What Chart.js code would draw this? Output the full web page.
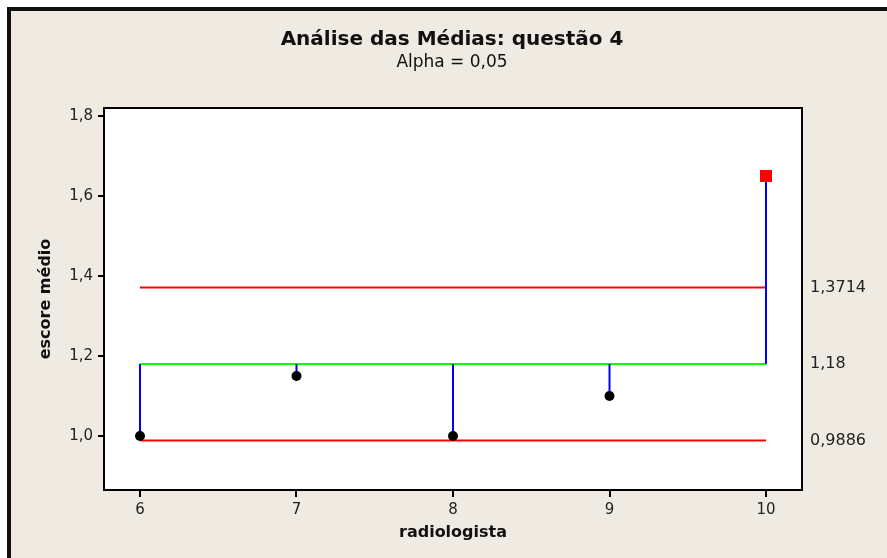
<!DOCTYPE html>
<html>
<head>
<meta charset="utf-8">
<script src="https://cdn.jsdelivr.net/npm/chart.js@4"></script>
<style>
  body { margin: 0; background: #fff; }
  #frame { position: absolute; left: 7px; top: 7px; width: 880px; height: 551px;
           border-top: 4px solid #111; border-left: 4px solid #111; background: #efebe2; }
  #myChart { position: absolute; left: 0; top: 0; }
</style>
</head>
<body>
<div id="frame"></div>
<canvas id="myChart" width="887" height="558"></canvas>
<script>
// radiologists and their mean scores
let radiologists = [6, 7, 8, 9, 10]
let means = [1.0, 1.15, 1.0, 1.1, 1.65]
let center = 1.18
let upperLimit = 1.3714
let lowerLimit = 0.9886
let yTicks = [1.0, 1.2, 1.4, 1.6, 1.8]

const fmt = (v, d) => v.toFixed(d).replace('.', ',')

// red square for the mean above the upper decision limit
let outside = means.map(m => m > upperLimit || m < lowerLimit - 0.05)
let pointColors = outside.map(o => o ? '#ff0000' : '#000000')
let pointStyles = outside.map(o => o ? 'rect' : 'circle')
let pointSizes = outside.map(o => o ? 8.5 : 5)

const first = radiologists[0]
const last = radiologists[radiologists.length - 1]

function hline(y, color) {
  return {
    data: [{x: first, y: y}, {x: last, y: y}],
    showLine: true, borderColor: color, borderWidth: 2,
    pointRadius: 0, order: 3
  }
}

let stems = radiologists.map((r, i) => ({
  data: [{x: r, y: center}, {x: r, y: means[i]}],
  showLine: true, borderColor: '#0000ff', borderWidth: 2,
  pointRadius: 0, order: 2
}))

const plotFrame = {
  id: 'plotFrame',
  beforeDraw(chart) {
    const {ctx, chartArea: a} = chart
    ctx.save()
    ctx.fillStyle = '#fff'
    ctx.fillRect(a.left, a.top, a.right - a.left, a.bottom - a.top)
    ctx.restore()
  },
  afterDraw(chart) {
    const {ctx, chartArea: a} = chart
    ctx.save()
    ctx.strokeStyle = '#000'
    ctx.lineWidth = 2
    ctx.strokeRect(a.left, a.top, a.right - a.left, a.bottom - a.top)
    ctx.fillStyle = '#111'
    ctx.textAlign = 'center'
    ctx.textBaseline = 'middle'
    ctx.font = 'bold 20px "DejaVu Sans"'
    ctx.fillText('Análise das Médias: questão 4', 452, 40)
    ctx.font = '17px "DejaVu Sans"'
    ctx.fillText('Alpha = 0,05', 452, 63)
    ctx.restore()
  }
}

const tickFont = { family: 'DejaVu Sans', size: 15 }
const titleFont = { family: 'DejaVu Sans', size: 16, weight: 'bold' }

const ctx = document.getElementById('myChart')
new Chart(ctx, {
  type: 'scatter',
  data: {
    datasets: [
      hline(upperLimit, '#ff0000'),
      hline(lowerLimit, '#ff0000'),
      hline(center, '#00ff00'),
      ...stems,
      {
        data: radiologists.map((r, i) => ({x: r, y: means[i]})),
        backgroundColor: pointColors, borderColor: pointColors,
        pointStyle: pointStyles, pointRadius: pointSizes, borderWidth: 0,
        order: 1
      }
    ]
  },
  options: {
    responsive: false,
    animation: false,
    layout: { padding: { top: 108, left: 0, right: 0, bottom: 0 } },
    plugins: { legend: { display: false }, tooltip: { enabled: false } },
    scales: {
      x: {
        type: 'linear', min: 5.77, max: 10.23,
        afterBuildTicks: s => { s.ticks = radiologists.map(v => ({value: v})) },
        afterFit: s => { s.height = 68 },
        border: { display: false },
        grid: { drawOnChartArea: false, color: '#000', lineWidth: 2, tickLength: 7 },
        ticks: { color: '#222', font: tickFont, padding: 4 },
        title: { display: true, text: 'radiologista', color: '#111', font: titleFont,
                 padding: { top: 0, bottom: 16 } }
      },
      y: {
        min: 0.865, max: 1.82,
        afterBuildTicks: s => { s.ticks = yTicks.map(v => ({value: v})) },
        afterFit: s => { s.width = 104 },
        border: { display: false },
        grid: { drawOnChartArea: false, color: '#000', lineWidth: 2, tickLength: 6 },
        ticks: { color: '#222', font: tickFont, padding: 5, callback: v => fmt(v, 1) },
        title: { display: true, text: 'escore médio', color: '#111', font: titleFont,
                 padding: { top: 36, bottom: 0 } }
      },
      y2: {
        position: 'right',
        min: 0.865, max: 1.82,
        afterBuildTicks: s => { s.ticks = [upperLimit, center, lowerLimit].map(v => ({value: v})) },
        afterFit: s => { s.width = 85 },
        border: { display: false },
        grid: { display: false, drawTicks: false },
        ticks: { color: '#222', font: { family: 'DejaVu Sans', size: 16 }, padding: 8,
                 callback: v => String(v).replace('.', ',') }
      }
    }
  },
  plugins: [plotFrame]
})
</script>
</body>
</html>
